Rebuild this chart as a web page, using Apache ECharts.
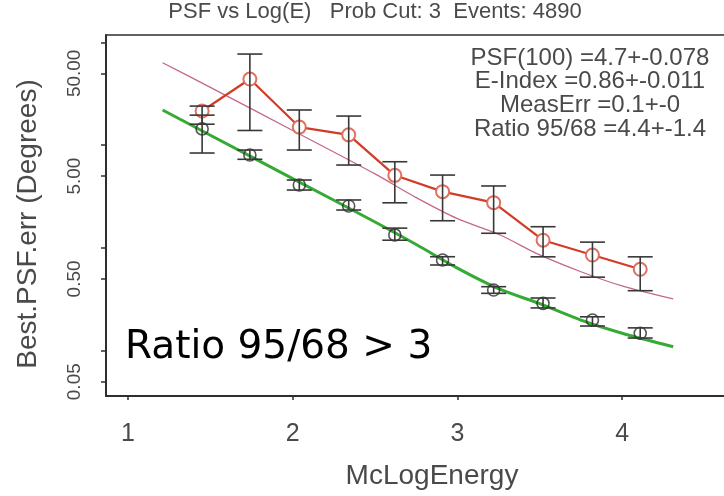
<!DOCTYPE html>
<html>
<head>
<meta charset="utf-8">
<script src="https://cdn.jsdelivr.net/npm/echarts@6/dist/echarts.min.js"></script>
<style>
  html, body { margin: 0; padding: 0; background: #ffffff; }
  #chart { width: 724px; height: 496px; }
</style>
</head>
<body>
<div id="chart"></div>
<script>
// Energy bins, log10(E / MeV)
const binLogE = [1.45, 1.74, 2.04, 2.34, 2.62, 2.91, 3.22, 3.52, 3.82, 4.11];

// 95% containment radius per bin (degrees) with error-bar limits
const psf95 = [21.5, 44.0, 15.0, 12.6, 5.09, 3.53, 2.76, 1.19, 0.854, 0.62];
const psf95Low = [16.0, 13.9, 8.97, 6.41, 2.75, 1.84, 1.39, 0.82, 0.52, 0.384];
const psf95High = [24.0, 77.0, 22.0, 19.2, 6.90, 5.12, 4.01, 1.61, 1.14, 0.82];

// 68% containment radius per bin (degrees) with error-bar limits
const psf68 = [14.4, 8.02, 4.10, 2.56, 1.34, 0.764, 0.390, 0.289, 0.199, 0.148];
const psf68Low = [8.39, 7.29, 3.66, 2.34, 1.19, 0.683, 0.362, 0.261, 0.174, 0.133];
const psf68High = [19.6, 8.97, 4.58, 2.93, 1.56, 0.822, 0.420, 0.326, 0.214, 0.167];

// Fitted PSF curves
const fitLogE = [1.21, 1.5, 2.0, 2.5, 2.75, 3.0, 3.25, 3.5, 3.75, 4.0, 4.31];
const fit68 = [22.0, 12.5, 4.73, 1.79, 1.08, 0.637, 0.402, 0.287, 0.199, 0.148, 0.1095];
const fit95 = [63.4, 36.5, 13.9, 5.25, 3.09, 1.93, 1.36, 0.855, 0.587, 0.427, 0.319];

// Axis ticks
const xTickValues = [1, 2, 3, 4];
const yLabelValues = [0.05, 0.5, 5, 50];
const yTickValues = [0.05, 0.1, 0.5, 1, 5, 10, 50, 100];

// Text
const titleText = 'PSF vs Log(E)   Prob Cut: 3  Events: 4890';
const fitInfo = ['PSF(100) =4.7+-0.078', 'E-Index =0.86+-0.011', 'MeasErr =0.1+-0', 'Ratio 95/68 =4.4+-1.4'];
const ratioNote = 'Ratio 95/68 > 3';
const xName = 'McLogEnergy';
const yName = 'Best.PSF.err (Degrees)';

const SANS = '"Liberation Sans", Arial, sans-serif';
const TEXT_GRAY = '#4a4a4a';
const AXIS_GRAY = '#2e2e2e';

// Vertical error bar with caps at both ends
function errorBars(lows, highs) {
  return {
    type: 'custom',
    data: binLogE.map((x, i) => [x, lows[i], highs[i]]),
    encode: { x: 0, y: [1, 2] },
    z: 5,
    silent: true,
    renderItem(params, api) {
      const x = api.value(0);
      const lo = api.coord([x, api.value(1)]);
      const hi = api.coord([x, api.value(2)]);
      const hw = 12.5;
      const style = { stroke: '#383838', lineWidth: 1.6, fill: null };
      return {
        type: 'group',
        children: [
          { type: 'line', shape: { x1: lo[0], y1: lo[1], x2: hi[0], y2: hi[1] }, style },
          { type: 'line', shape: { x1: lo[0] - hw, y1: lo[1], x2: lo[0] + hw, y2: lo[1] }, style },
          { type: 'line', shape: { x1: hi[0] - hw, y1: hi[1], x2: hi[0] + hw, y2: hi[1] }, style }
        ]
      };
    }
  };
}

const X_MIN = 0.8664, X_MAX = 4.6187;

const chart = echarts.init(document.getElementById('chart'), null, { renderer: 'canvas' });

chart.setOption({
  animation: false,
  backgroundColor: '#ffffff',
  grid: { left: 106, top: 35, right: 0, bottom: 100, show: false },
  xAxis: [
    {
      type: 'value',
      min: X_MIN, max: X_MAX,
      axisLine: { show: true, lineStyle: { color: AXIS_GRAY, width: 2 } },
      axisTick: { show: true, customValues: xTickValues, length: 4, lineStyle: { color: AXIS_GRAY, width: 1.5 } },
      axisLabel: {
        customValues: xTickValues, margin: 26,
        fontFamily: SANS, fontSize: 25, color: TEXT_GRAY,
        formatter: v => String(v)
      },
      splitLine: { show: false }
    },
    {
      // plain frame line along the top of the plot
      type: 'value', position: 'top',
      min: X_MIN, max: X_MAX,
      axisLine: { show: true, onZero: false, lineStyle: { color: AXIS_GRAY, width: 1.5 } },
      axisTick: { show: false }, axisLabel: { show: false }, splitLine: { show: false }
    }
  ],
  yAxis: {
    type: 'log',
    min: 0.0363, max: 118,
    axisLine: { show: true, lineStyle: { color: AXIS_GRAY, width: 2 } },
    axisTick: { show: true, customValues: yTickValues, length: 5, lineStyle: { color: AXIS_GRAY, width: 1.5 } },
    axisLabel: {
      customValues: yLabelValues, margin: 22, rotate: 90,
      fontFamily: SANS, fontSize: 19, color: TEXT_GRAY,
      formatter: v => Number(v).toFixed(2)
    },
    splitLine: { show: false }
  },
  graphic: [
    {
      type: 'text', x: 375, y: 12,
      style: { text: titleText, font: '22px ' + SANS, fill: TEXT_GRAY, textAlign: 'center', textVerticalAlign: 'middle' }
    },
    {
      type: 'text', x: 590, y: 46,
      style: {
        text: fitInfo.join('\n'), font: '24px ' + SANS, fill: TEXT_GRAY,
        textAlign: 'center', lineHeight: 23.8
      }
    },
    {
      type: 'text', x: 432, y: 476,
      style: { text: xName, font: '28px ' + SANS, fill: TEXT_GRAY, textAlign: 'center', textVerticalAlign: 'middle' }
    },
    {
      type: 'text', x: 28, y: 224, rotation: Math.PI / 2,
      style: { text: yName, font: '28px ' + SANS, fill: TEXT_GRAY, textAlign: 'center', textVerticalAlign: 'middle' }
    },
    {
      type: 'text', x: 125, y: 328,
      style: { text: ratioNote, font: '39px "DejaVu Sans", sans-serif', fill: '#000000' }
    }
  ],
  series: [
    {
      name: '95% fit', type: 'line', data: fitLogE.map((x, i) => [x, fit95[i]]),
      smooth: 0.3, showSymbol: false, z: 2,
      lineStyle: { color: '#c4688c', width: 1.3 }
    },
    {
      name: '68% fit', type: 'line', data: fitLogE.map((x, i) => [x, fit68[i]]),
      smooth: 0.3, showSymbol: false, z: 2,
      lineStyle: { color: '#35aa35', width: 3 }
    },
    {
      name: '95% containment', type: 'line', data: binLogE.map((x, i) => [x, psf95[i]]),
      symbol: 'emptyCircle', symbolSize: 13, showSymbol: true, z: 3,
      lineStyle: { color: '#d23c26', width: 2.2 },
      itemStyle: { color: '#e0705f', borderColor: '#e0705f', borderWidth: 1.4 }
    },
    {
      name: '68% containment', type: 'scatter', data: binLogE.map((x, i) => [x, psf68[i]]),
      symbol: 'circle', symbolSize: 12, z: 4,
      itemStyle: { color: 'rgba(0,0,0,0)', borderColor: '#2a2a2a', borderWidth: 1.6 }
    },
    errorBars(psf95Low, psf95High),
    errorBars(psf68Low, psf68High)
  ]
});
</script>
</body>
</html>
